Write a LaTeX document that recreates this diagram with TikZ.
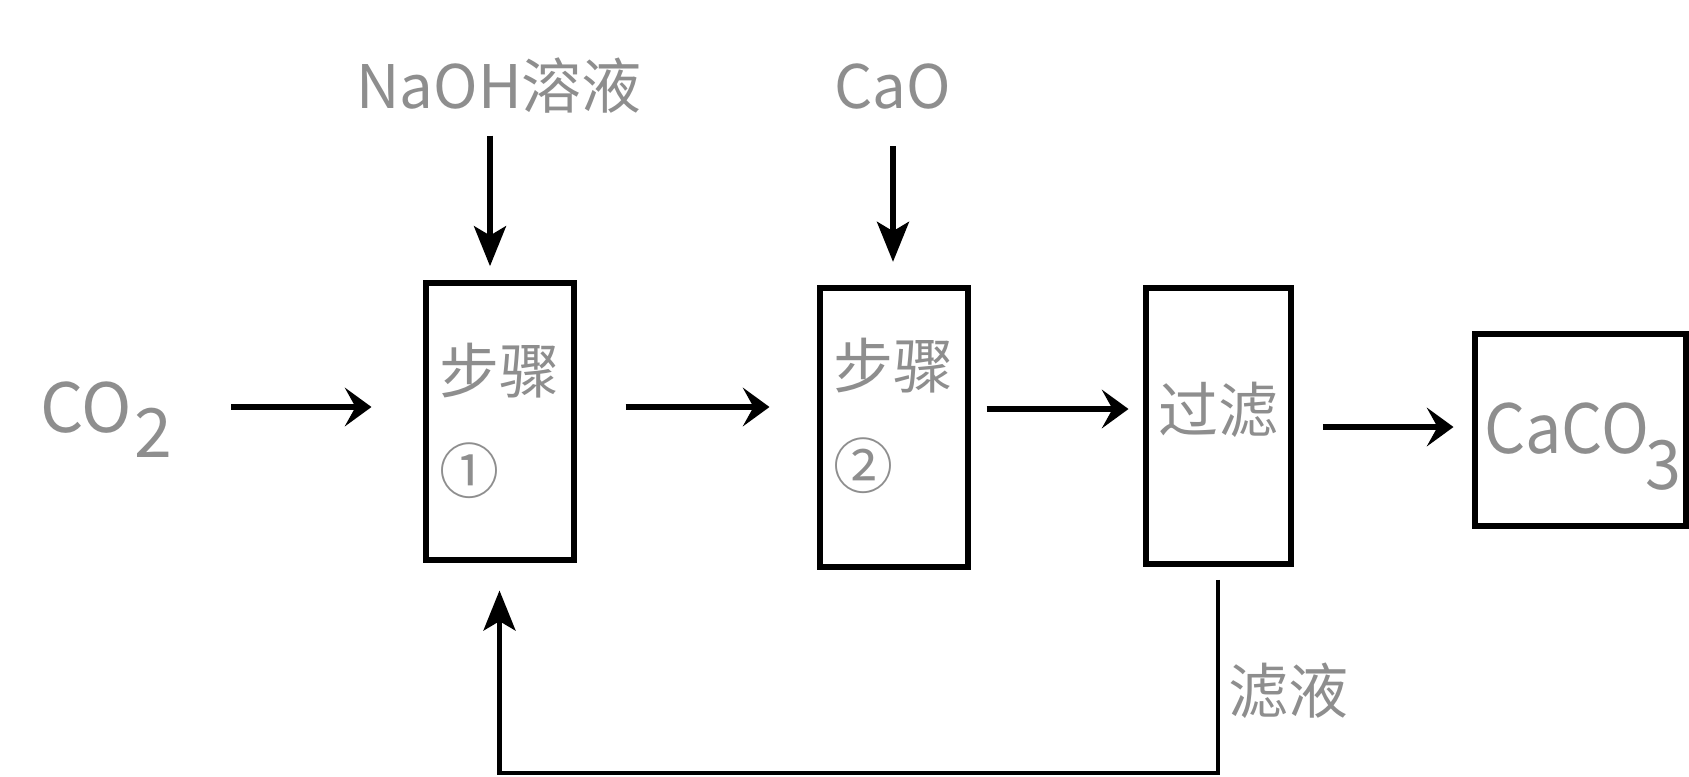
\documentclass[tikz,border=0pt]{standalone}
\usepackage{fontspec}
\setmainfont{Noto Sans CJK SC}
\usepackage{xcolor}
\usepackage{tikz}
\usetikzlibrary{arrows.meta}
\definecolor{txtgray}{RGB}{142,142,142}

\begin{document}
\begin{tikzpicture}[x=0.75pt,y=0.75pt,yscale=-1,xscale=1,
    txt/.style={text=txtgray, inner sep=0pt, font=\fontsize{45}{75}\selectfont, align=left},
    formula/.style={txt, font=\fontsize{51}{60}\selectfont},
    procbox/.style={draw, line width=4.5pt, inner sep=0pt},
    flow/.style={line width=5pt, -{Stealth[length=20pt,width=29pt,inset=8pt]}},
    feed/.style={line width=3.4pt, -{Stealth[length=30pt,width=24pt,inset=7pt]}}]
        \useasboundingbox (0,0) rectangle (1689,776);

        \node [procbox, minimum width=111pt, minimum height=207.75pt] (step1) at (499.5,421) {};
        \node [procbox, minimum width=111pt, minimum height=209.25pt] (step2) at (893.5,427) {};
        \node [procbox, minimum width=108.75pt, minimum height=207pt] (filt) at (1218,425.5) {};
        \node [procbox, minimum width=158pt, minimum height=144pt] (prod) at (1580.5,430) {};

        \node [txt] (step1txt) at (step1.center) {步骤\\①};
        \node [txt] (step2txt) at ([yshift=-8pt]step2.center) {步骤\\②};
        \node [txt] (filttxt) at ([yshift=-12pt]filt.center) {过滤};
        \node [formula, anchor=base west] (caco3) at (1484,453) {\scalebox{0.95}[1]{CaCO\kern-3pt\raisebox{-0.54em}{3}}};

        \node [formula, anchor=base west] (co2) at (40,432) {CO\kern2pt\raisebox{-0.38em}{2}};
        \node [txt, anchor=base] (naoh) at (499,108) {NaOH溶液};
        \node [txt, anchor=base] (cao) at (893,108) {CaO};
        \node [txt, anchor=west] (lvye) at (1228,691) {滤液};
        \coordinate (loopb) at (860,773);

        \draw [flow, shorten <=44pt, shorten >=38.25pt] (co2.east |- 0,407) -- (step1.west |- 0,407);
        \draw [flow, shorten <=36.75pt, shorten >=35.25pt] (step1.east |- 0,407) -- (step2.west |- 0,407);
        \draw [flow, shorten <=12pt, shorten >=10.5pt] (step2.east |- 0,409) -- (filt.west |- 0,409);
        \draw [flow, shorten <=22pt, shorten >=14pt] (filt.east |- 0,427) -- (prod.west |- 0,427);
        \draw [feed, line width=3.8pt, shorten <=17pt, shorten >=10pt] (490,0 |- naoh.south) -- (490,0 |- step1.north);
        \draw [feed, line width=3.8pt, shorten <=28pt, shorten >=17pt] (cao.south) -- (cao.south |- step2.north);
        \draw [feed, shorten <=10pt, shorten >=21pt] (filt.south) |- (loopb) -| (step1.south);
\end{tikzpicture}
\end{document}
